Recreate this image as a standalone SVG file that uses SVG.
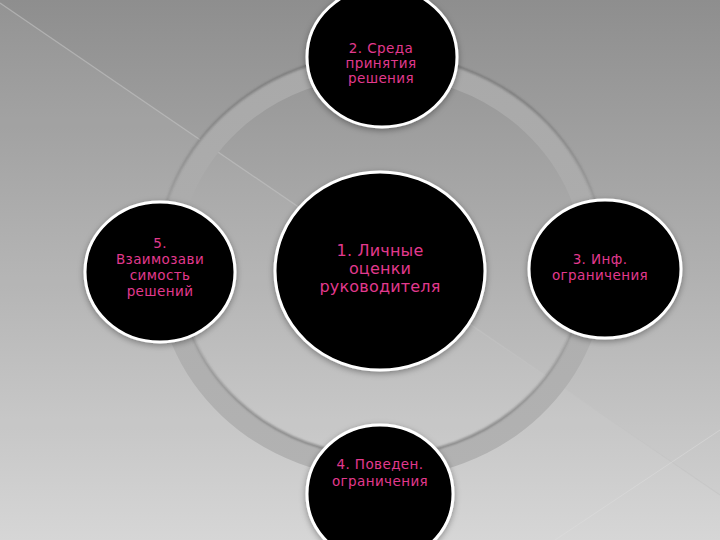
<svg xmlns="http://www.w3.org/2000/svg" width="720" height="540" viewBox="0 0 720 540">
  <defs>
    <linearGradient id="bg" x1="0" y1="0" x2="0" y2="1">
      <stop offset="0" stop-color="#8e8e8e"/>
      <stop offset="0.5" stop-color="#b0b0b0"/>
      <stop offset="1" stop-color="#d4d4d4"/>
    </linearGradient>
    <linearGradient id="ringG" x1="0" y1="0" x2="0" y2="1">
      <stop offset="0" stop-color="#a9a9a9"/>
      <stop offset="1" stop-color="#b2b2b2"/>
    </linearGradient>
    <linearGradient id="outerShade" x1="0" y1="0" x2="0" y2="1">
      <stop offset="0" stop-color="#666" stop-opacity="0.85"/>
      <stop offset="0.55" stop-color="#666" stop-opacity="0"/>
    </linearGradient>
    <linearGradient id="innerShade" x1="0" y1="0" x2="0" y2="1">
      <stop offset="0.45" stop-color="#6c6c6c" stop-opacity="0"/>
      <stop offset="1" stop-color="#6c6c6c" stop-opacity="0.85"/>
    </linearGradient>
    <filter id="shadow" x="-20%" y="-20%" width="140%" height="140%">
      <feDropShadow dx="0" dy="2" stdDeviation="3" flood-color="#000" flood-opacity="0.35"/>
    </filter>
    <filter id="soft" x="-5%" y="-5%" width="110%" height="110%">
      <feGaussianBlur stdDeviation="1"/>
    </filter>
  </defs>
  <style>
    .node { fill: #000; stroke: #fff; stroke-width: 3; filter: url(#shadow); }
    .lbl { font-family: "DejaVu Sans", "Liberation Sans", sans-serif; fill: #e2398e; text-anchor: middle; font-size: 13.5px; letter-spacing: 0.4px; }
    .big { font-size: 16px; letter-spacing: 0.2px; }
  </style>

  <rect width="720" height="540" fill="url(#bg)"/>
  <polygon points="0,3 720,495 720,540 0,540" fill="#ffffff" opacity="0.05"/>
  <line x1="0" y1="3" x2="720" y2="495" stroke="#c4c4c4" stroke-width="1.2" opacity="0.6"/>
  <line x1="555" y1="540" x2="720" y2="430" stroke="#dedede" stroke-width="1" opacity="0.5"/>

  <g id="connectors">
    <ellipse cx="381" cy="266" rx="214" ry="201" fill="none" stroke="url(#ringG)" stroke-width="22"/>
    <ellipse cx="381" cy="266" rx="225" ry="212" fill="none" stroke="url(#outerShade)" stroke-width="2" filter="url(#soft)"/>
    <ellipse cx="381" cy="266" rx="203" ry="190" fill="none" stroke="url(#innerShade)" stroke-width="2" filter="url(#soft)"/>
  </g>

  <g id="node1">
    <ellipse class="node" cx="380" cy="271" rx="105" ry="99"/>
    <text class="lbl big" x="380" y="256">1. Личные</text>
    <text class="lbl big" x="380" y="274">оценки</text>
    <text class="lbl big" x="380" y="292">руководителя</text>
  </g>

  <g id="node2">
    <ellipse class="node" cx="382" cy="57" rx="75" ry="70"/>
    <text class="lbl" x="381" y="53">2. Среда</text>
    <text class="lbl" x="381" y="68">принятия</text>
    <text class="lbl" x="381" y="83">решения</text>
  </g>

  <g id="node3">
    <ellipse class="node" cx="605" cy="269" rx="76" ry="69"/>
    <text class="lbl" x="600" y="264">3. Инф.</text>
    <text class="lbl" x="600" y="280">ограничения</text>
  </g>

  <g id="node4">
    <ellipse class="node" cx="380" cy="494" rx="73" ry="69"/>
    <text class="lbl" x="380" y="469">4. Поведен.</text>
    <text class="lbl" x="380" y="486">ограничения</text>
  </g>

  <g id="node5">
    <ellipse class="node" cx="160" cy="272" rx="75" ry="70"/>
    <text class="lbl" x="160" y="248">5.</text>
    <text class="lbl" x="160" y="264">Взаимозави</text>
    <text class="lbl" x="160" y="280">симость</text>
    <text class="lbl" x="160" y="296">решений</text>
  </g>
</svg>
